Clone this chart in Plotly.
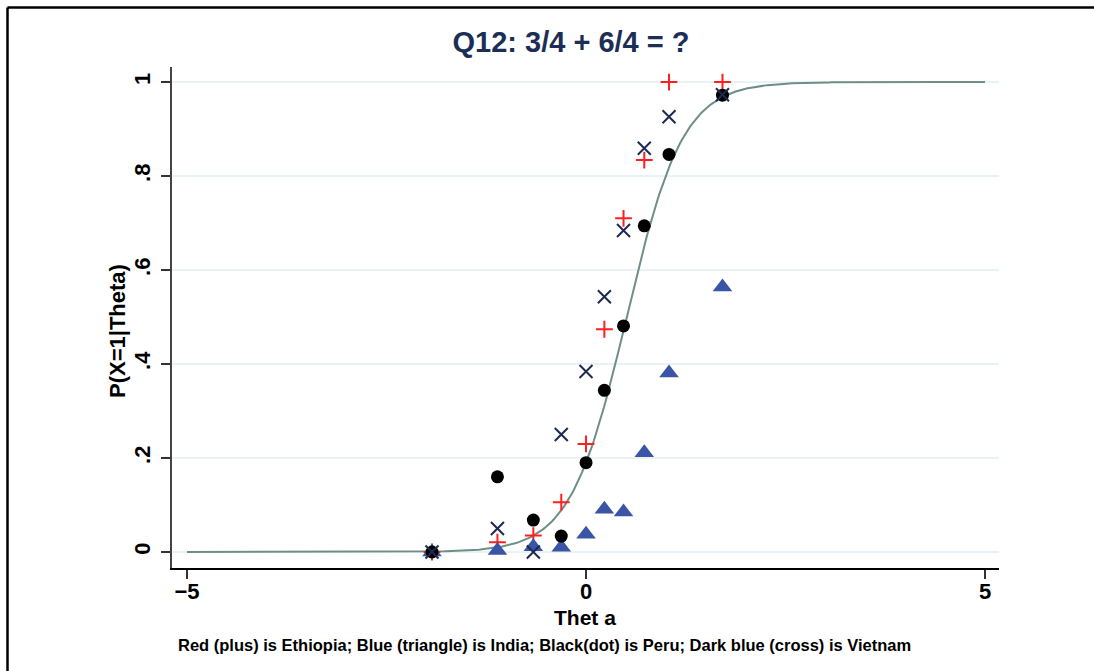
import numpy as np
import plotly.graph_objects as go

# Data
theta = [-1.93, -1.11, -0.66, -0.31, 0.0, 0.23, 0.47, 0.73, 1.04, 1.71]
ethiopia = [0.0, 0.021, 0.035, 0.106, 0.23, 0.474, 0.71, 0.834, 1.0, 1.0]
india = [0.0, 0.003, 0.011, 0.010, 0.038, 0.091, 0.085, 0.211, 0.381, 0.564]
peru = [0.0, 0.160, 0.068, 0.034, 0.19, 0.344, 0.481, 0.694, 0.846, 0.972]
vietnam = [0.0, 0.05, 0.0, 0.25, 0.384, 0.543, 0.684, 0.859, 0.926, 0.973]

# item characteristic curve parameters (logistic)
icc_slope = 2.84
icc_difficulty = 0.51
curve_x = np.linspace(-5, 5, 401)
curve_y = 1.0 / (1.0 + np.exp(-icc_slope * (curve_x - icc_difficulty)))

x_ticks = [-5, 0, 5]
x_tick_labels = ["\u22125", "0", "5"]
y_ticks = [0, 0.2, 0.4, 0.6, 0.8, 1]
y_tick_labels = ["0", ".2", ".4", ".6", ".8", "1"]

FONT = "Liberation Sans Narrow, Arial Narrow, Liberation Sans, Arial, sans-serif"

fig = go.Figure()
fig.add_trace(go.Scatter(x=curve_x, y=curve_y, mode="lines",
                         line=dict(color="#6f8f86", width=2), hoverinfo="skip"))
fig.add_trace(go.Scatter(x=theta, y=ethiopia, mode="markers", name="Ethiopia",
                         marker=dict(symbol="cross-thin", size=12,
                                     line=dict(color="#ff1f1f", width=2))))
fig.add_trace(go.Scatter(x=theta, y=india, mode="markers", name="India",
                         marker=dict(symbol="triangle-up", size=17, color="#3a55a5",
                                     line=dict(width=0))))
fig.add_trace(go.Scatter(x=theta, y=peru, mode="markers", name="Peru",
                         marker=dict(symbol="circle", size=13, color="black",
                                     line=dict(width=0))))
fig.add_trace(go.Scatter(x=theta, y=vietnam, mode="markers", name="Vietnam",
                         marker=dict(symbol="x-thin", size=13,
                                     line=dict(color="#1c2a52", width=2))))

L, R, T, B = 172, 95, 67, 103
W, H = 1094, 671
pw = W - L - R
ph = H - T - B

def px(xp):
    return (xp - L) / pw

def py(yp):
    return (H - B - yp) / ph

fig.update_layout(
    width=W, height=H,
    margin=dict(l=L, r=R, t=T, b=B),
    paper_bgcolor="white", plot_bgcolor="white",
    showlegend=False,
    font=dict(family=FONT, color="black", size=20),
    title=dict(text="<b>Q12: 3/4 + 6/4 = ?</b>", x=px(571), xref="paper",
               xanchor="center", y=1 - 42 / H, yanchor="middle",
               font=dict(family=FONT, size=29, color="#1c2e55")),
    xaxis=dict(range=[-5.188, 5.175], tickvals=x_ticks,
               ticktext=["<b>%s</b>" % t for t in x_tick_labels],
               showgrid=False, zeroline=False, showline=True, linecolor="black",
               linewidth=1.5, ticks="outside", ticklen=9, tickwidth=1.5,
               tickcolor="#333", tickfont=dict(family=FONT, size=22),
               ticklabelstandoff=-6),
    yaxis=dict(range=[-0.034, 1.032], tickvals=y_ticks,
               ticktext=["<b>%s</b>" % t for t in y_tick_labels],
               showgrid=True, gridcolor="#e9f2f4", gridwidth=1.5,
               zeroline=False, showline=True, linecolor="#444", linewidth=1.5,
               ticks="outside", ticklen=9, tickwidth=1.5, tickcolor="#333",
               tickangle=-90, tickfont=dict(family=FONT, size=22),
               ticklabelstandoff=2),
    annotations=[
        dict(text="<b>Thet a</b>", xref="paper", yref="paper", x=px(585), y=py(617),
             xanchor="center", yanchor="middle", showarrow=False,
             font=dict(family=FONT, size=21, color="black")),
        dict(text="<b>P(X=1|Theta)</b>", xref="paper", yref="paper", x=px(118), y=py(331),
             xanchor="center", yanchor="middle", showarrow=False, textangle=-90,
             font=dict(family=FONT, size=22, color="black")),
        dict(text="<b>Red (plus) is Ethiopia; Blue (triangle) is India; Black(dot) is Peru; Dark blue (cross) is Vietnam</b>",
             xref="paper", yref="paper", x=px(176), y=py(645),
             xanchor="left", yanchor="middle", showarrow=False,
             font=dict(family=FONT, size=16.5, color="black"))],
    shapes=[dict(type="line", xref="paper", yref="paper", x0=px(7.5), x1=px(1100),
                 y0=py(7.5), y1=py(7.5), line=dict(color="black", width=2.5)),
            dict(type="line", xref="paper", yref="paper", x0=px(7.5), x1=px(7.5),
                 y0=py(7.5), y1=py(680), line=dict(color="black", width=2.5))],
)

fig.write_html("out.html", config={"displayModeBar": False},
               post_script="document.body.style.margin='0px';document.body.style.overflow='hidden';")
